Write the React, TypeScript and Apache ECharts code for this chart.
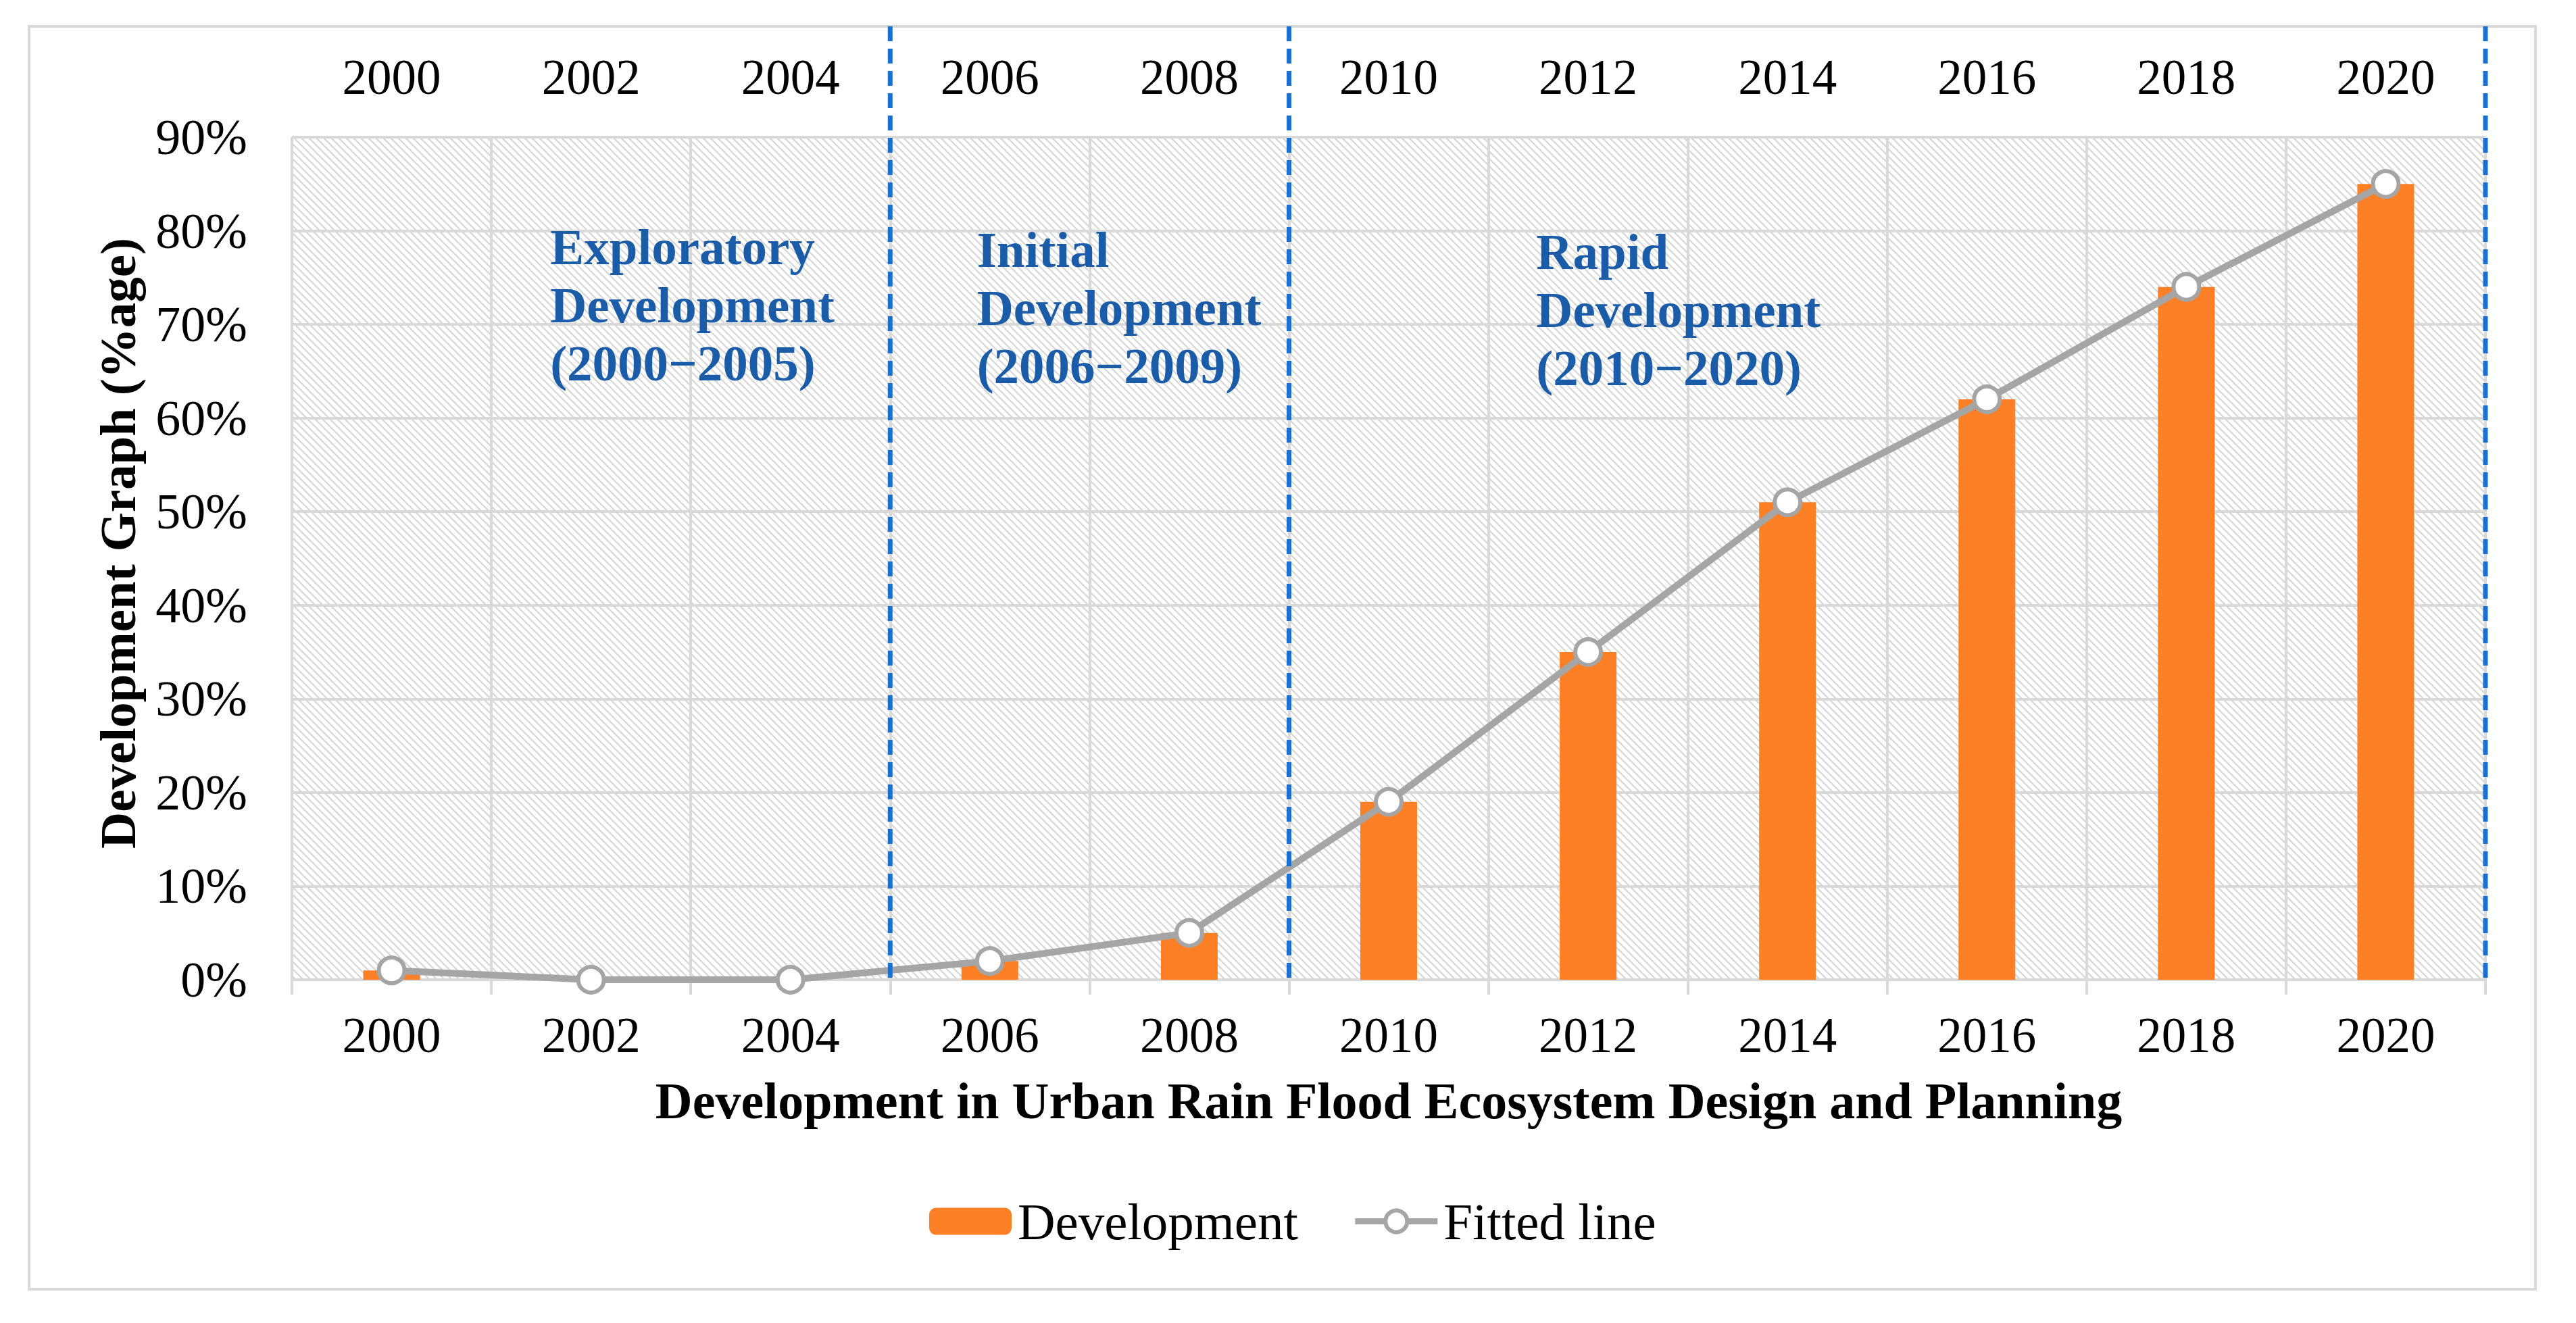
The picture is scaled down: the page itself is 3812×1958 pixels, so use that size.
import { useEffect, useRef } from "react";
import * as echarts from "echarts";

const years = ["2000", "2002", "2004", "2006", "2008", "2010", "2012", "2014", "2016", "2018", "2020"];
const development = [1, 0, 0, 2, 5, 19, 35, 51, 62, 74, 85];
const fittedLine = [1, 0, 0, 2, 5, 19, 35, 51, 62, 74, 85];

// dashed dividers sit between these pairs of category indexes
const phaseDividers = [
  [2, 3],
  [4, 5],
  [10, 11],
];
const phaseLabels = [
  "Exploratory\nDevelopment\n(2000−2005)",
  "Initial\nDevelopment\n(2006−2009)",
  "Rapid\nDevelopment\n(2010−2020)",
];
// anchor of each label: category position of left edge, value of first line
const phaseLabelX = [0.795, 2.935, 5.74];
const phaseLabelY = [78.3, 78.0, 77.8];

const FONT = "Liberation Serif";
const HATCH = 11;

function hatchImage(): string {
  const size = HATCH;
  const c = document.createElement("canvas");
  c.width = size;
  c.height = size;
  const ctx = c.getContext("2d")!;
  ctx.fillStyle = "#ffffff";
  ctx.fillRect(0, 0, size, size);
  ctx.strokeStyle = "#d6d6d6";
  ctx.lineWidth = 2.2;
  ctx.beginPath();
  ctx.moveTo(-size, 0);
  ctx.lineTo(size, 2 * size);
  ctx.moveTo(0, 0);
  ctx.lineTo(size, size);
  ctx.moveTo(0, -size);
  ctx.lineTo(2 * size, size);
  ctx.stroke();
  return c.toDataURL();
}

export default function App() {
  const chartRef = useRef<HTMLDivElement>(null);

  useEffect(() => {
    if (!chartRef.current) return;
    const chart = echarts.init(chartRef.current, null, { renderer: "svg" });

    const option: any = {
      animation: false,
      backgroundColor: "#ffffff",
      textStyle: { fontFamily: FONT },
      grid: {
        left: 432,
        right: 134,
        top: 203,
        bottom: 508,
        show: true,
        borderWidth: 0,
        backgroundColor: {
          image: hatchImage(),
          repeat: "repeat",
          imageWidth: HATCH,
          imageHeight: HATCH,
        },
      },
      legend: {
        left: 1370,
        top: 1764,
        itemWidth: 122,
        itemHeight: 40,
        itemGap: 80,
        textStyle: { fontFamily: FONT, fontSize: 77, color: "#000", padding: [0, 0, 0, 4] },
        lineStyle: { width: 9 },
        itemStyle: { borderWidth: 6 },
        data: ["Development", "Fitted line"],
      },
      xAxis: [
        {
          type: "category",
          data: years,
          position: "bottom",
          name: "Development in Urban Rain Flood Ecosystem Design and Planning",
          nameLocation: "middle",
          nameGap: 141,
          nameTextStyle: { fontFamily: FONT, fontSize: 76, fontWeight: "bold", color: "#000" },
          axisLine: { show: true, lineStyle: { color: "#d9d9d9", width: 4 } },
          axisTick: { show: true, length: 22, lineStyle: { color: "#d9d9d9", width: 4 } },
          axisLabel: { fontFamily: FONT, fontSize: 73, color: "#000", margin: 46 },
          splitLine: { show: true, lineStyle: { color: "#d9d9d9", width: 4 } },
        },
        {
          type: "category",
          data: years,
          position: "top",
          axisLine: { show: false },
          axisTick: { show: false },
          axisLabel: { fontFamily: FONT, fontSize: 73, color: "#000", margin: 52 },
          splitLine: { show: false },
        },
      ],
      yAxis: {
        type: "value",
        min: 0,
        max: 90,
        interval: 10,
        axisLine: { show: false },
        axisTick: { show: false },
        axisLabel: {
          fontFamily: FONT,
          fontSize: 74,
          color: "#000",
          margin: 66,
          formatter: (v: number) => `${v}%`,
        },
        splitLine: { show: true, lineStyle: { color: "#d9d9d9", width: 4 } },
      },
      series: [
        {
          name: "Development",
          type: "bar",
          data: development,
          barWidth: 84,
          itemStyle: { color: "#fd7f26" },
          z: 2,
        },
        {
          name: "Fitted line",
          type: "line",
          data: fittedLine,
          symbol: "circle",
          symbolSize: 38,
          lineStyle: { color: "#a5a5a5", width: 10 },
          itemStyle: { color: "#ffffff", borderColor: "#a5a5a5", borderWidth: 6 },
          z: 3,
        },
      ],
    };

    chart.setOption(option);

    // place dividers and phase labels from the axes' own scales
    const xAt = (i: number) => chart.convertToPixel({ xAxisIndex: 0 }, i) as number;
    const yAt = (v: number) => chart.convertToPixel({ yAxisIndex: 0 }, v) as number;
    const step = xAt(1) - xAt(0);
    const xPos = (p: number) => xAt(0) + p * step;
    const yZero = yAt(0);

    const graphic: any[] = [
      {
        type: "rect",
        shape: { x: 43, y: 39, width: 3709, height: 1869 },
        style: { fill: "transparent", stroke: "#d9d9d9", lineWidth: 4 },
        z: 0,
      },
      {
        type: "text",
        x: 174,
        y: 804,
        rotation: Math.PI / 2,
        style: {
          text: "Development Graph (%age)",
          fontFamily: FONT,
          fontSize: 75,
          fontWeight: "bold",
          fill: "#000",
          align: "center",
          verticalAlign: "middle",
        },
      },
    ];

    phaseDividers.forEach(([a, b]) => {
      const x = (xPos(a) + xPos(b)) / 2;
      graphic.push({
        type: "line",
        shape: { x1: x, y1: 39, x2: x, y2: yZero },
        style: { stroke: "#1a6fd0", lineWidth: 7, lineDash: [22, 11] },
        z: 10,
      });
    });

    phaseLabels.forEach((text, i) => {
      graphic.push({
        type: "text",
        x: xPos(phaseLabelX[i]),
        y: yAt(phaseLabelY[i]) - 43,
        style: {
          text,
          fontFamily: FONT,
          fontSize: 75,
          fontWeight: "bold",
          lineHeight: 86,
          fill: "#1a5ca8",
          align: "left",
          verticalAlign: "top",
        },
        z: 10,
      });
    });

    chart.setOption({ graphic });

    return () => {
      chart.dispose();
    };
  }, []);

  return (
    <div
      ref={chartRef}
      style={{ position: "absolute", left: 0, top: 0, width: "3812px", height: "1958px" }}
    />
  );
}
